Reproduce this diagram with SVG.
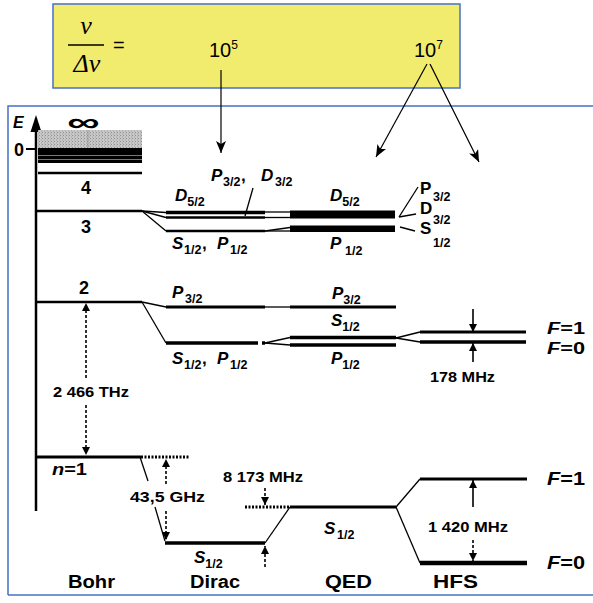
<svg xmlns="http://www.w3.org/2000/svg" width="593" height="603" viewBox="0 0 593 603">
<style>
.lv{stroke:#000;fill:none;stroke-linecap:butt}
.th{stroke:#000;stroke-width:1.3;fill:none}
.ds{stroke:#000;stroke-width:1.6;fill:none;stroke-dasharray:3,2}
.dt{stroke:#000;stroke-width:3;fill:none;stroke-dasharray:2,1.5}
.t{font-family:"Liberation Sans",Arial,Helvetica,sans-serif;font-weight:bold;fill:#000}
.i{font-style:italic}
.s{font-size:12.5px;font-style:normal}
.frame{stroke:#4472c4;stroke-width:1.5;fill:none}
</style>
<defs>
<marker id="ab" viewBox="0 0 12 10" refX="12" refY="5" markerWidth="12" markerHeight="10" markerUnits="userSpaceOnUse" orient="auto"><path d="M0,0 L12,5 L0,10 L3,5 z" fill="#000"/></marker>
<marker id="as" viewBox="0 0 10 10" refX="10" refY="5" markerWidth="9" markerHeight="8" markerUnits="userSpaceOnUse" orient="auto"><path d="M0,0 L10,5 L0,10 z" fill="#000"/></marker>
<pattern id="dots" width="3" height="3" patternUnits="userSpaceOnUse"><rect width="3" height="3" fill="#c8c8c8"/><rect width="1" height="1" fill="#8f8f8f"/><rect x="2" y="1.5" width="1" height="1" fill="#a0a0a0"/></pattern>
</defs>

<g id="ratio-box">
<rect x="53" y="4" width="407" height="84" fill="#f2ec6e" stroke="#4a6fc9" stroke-width="1.5"/>
<text x="86" y="34" font-family="'Liberation Serif','Times New Roman',serif" font-style="italic" font-size="26" text-anchor="middle">ν</text>
<line x1="68" y1="45" x2="104" y2="45" stroke="#000" stroke-width="1.3"/>
<text x="87" y="72" font-family="'Liberation Serif','Times New Roman',serif" font-style="italic" font-size="26" text-anchor="middle">Δν</text>
<text x="113" y="52" font-family="'Liberation Sans',Arial,sans-serif" font-size="20">=</text>
<text x="209" y="57" font-family="'Liberation Sans',Arial,sans-serif" font-size="20">10<tspan font-size="12" dy="-8">5</tspan></text>
<text x="414" y="57" font-family="'Liberation Sans',Arial,sans-serif" font-size="20">10<tspan font-size="12" dy="-8">7</tspan></text>
</g>

<g id="frame">
<path class="frame" d="M8,595 L8,106 L593,106"/>
<path class="frame" d="M8,595 L593,595"/>
</g>

<g id="connectors">
<line x1="221" y1="70" x2="221" y2="153" stroke="#000" stroke-width="1.2" marker-end="url(#ab)"/>
<line x1="427" y1="64" x2="376" y2="157" stroke="#000" stroke-width="1.2" marker-end="url(#ab)"/>
<line x1="430" y1="64" x2="479" y2="162" stroke="#000" stroke-width="1.2" marker-end="url(#ab)"/>
</g>

<g id="axis">
<line class="lv" x1="36" y1="128" x2="36" y2="511" stroke-width="2.5"/>
<polygon points="30.5,132 36,115 41.5,132" fill="#000"/>
<text class="t i" x="13" y="128" font-size="16">E</text>
<text class="t" x="14" y="156" font-size="18">0</text>
<line class="lv" x1="26" y1="149" x2="36" y2="149" stroke-width="2"/>
</g>

<g id="bohr">
<text class="t" transform="translate(83.5,131) scale(1.75,1)" x="0" y="0" font-size="26" text-anchor="middle">∞</text>
<rect x="38" y="130" width="104" height="18" fill="url(#dots)"/>
<line x1="88" y1="130" x2="88" y2="148" stroke="#999" stroke-width="1"/>
<rect x="38" y="148" width="104" height="15" fill="#000"/>
<line x1="38" y1="155.5" x2="142" y2="155.5" stroke="#777" stroke-width="1"/>
<line x1="38" y1="159.5" x2="142" y2="159.5" stroke="#777" stroke-width="1"/>
<line class="lv" x1="38" y1="173" x2="142" y2="173" stroke-width="2.5"/>
<text class="t" x="81" y="194" font-size="18">4</text>
<line class="lv" x1="36" y1="211" x2="142" y2="211" stroke-width="2.5"/>
<text class="t" x="81" y="233" font-size="18">3</text>
<line class="lv" x1="36" y1="302" x2="142" y2="302" stroke-width="2.5"/>
<text class="t" x="79" y="294" font-size="18">2</text>
<line class="lv" x1="36" y1="457" x2="141" y2="457" stroke-width="3"/>
<line class="dt" x1="141" y1="457" x2="190" y2="457"/>
<text class="t" x="52" y="475" font-size="17" textLength="35" lengthAdjust="spacingAndGlyphs"><tspan class="i">n</tspan>=1</text>
<text class="t" x="68" y="588" font-size="18" textLength="47" lengthAdjust="spacingAndGlyphs">Bohr</text>
</g>

<g id="dirac">
<line class="th" x1="142" y1="211" x2="166" y2="212.5"/>
<line class="th" x1="142" y1="211" x2="166" y2="217.5"/>
<line class="th" x1="142" y1="211" x2="166" y2="231"/>
<line class="lv" x1="166" y1="212.5" x2="265" y2="212.5" stroke-width="3.5"/>
<line class="lv" x1="166" y1="217.5" x2="265" y2="217.5" stroke-width="2.5"/>
<line class="lv" x1="166" y1="231" x2="265" y2="231" stroke-width="2.5"/>
<line class="th" x1="253" y1="188" x2="245" y2="216"/>
<text class="t i" x="175" y="201" font-size="17">D<tspan class="s" dy="5">5/2</tspan></text>
<text class="t i" x="211" y="181" font-size="17">P<tspan class="s" x="223" dy="5">3/2</tspan><tspan font-style="normal" x="241" dy="-5">,</tspan><tspan x="261" dy="0">D</tspan><tspan class="s" x="275" dy="5">3/2</tspan></text>
<text class="t i" x="172" y="249" font-size="17">S<tspan class="s" x="184" dy="5">1/2</tspan><tspan font-style="normal" x="202" dy="-5">,</tspan><tspan x="217" dy="0">P</tspan><tspan class="s" x="230" dy="5">1/2</tspan></text>

<line class="th" x1="142" y1="302" x2="166" y2="307"/>
<line class="th" x1="142" y1="302" x2="166" y2="343" stroke-width="1.8"/>
<line class="lv" x1="166" y1="307" x2="265" y2="307" stroke-width="3"/>
<line class="lv" x1="166" y1="343" x2="258" y2="343" stroke-width="3.5"/>
<line class="lv" x1="262" y1="343" x2="265" y2="343" stroke-width="3.5"/>
<text class="t i" x="172" y="298" font-size="17">P<tspan class="s" x="185" dy="5">3/2</tspan></text>
<text class="t i" x="172" y="364" font-size="17">S<tspan class="s" x="184" dy="5">1/2</tspan><tspan font-style="normal" x="202" dy="-5">,</tspan><tspan x="217" dy="0">P</tspan><tspan class="s" x="230" dy="5">1/2</tspan></text>

<line class="th" x1="140" y1="457" x2="148" y2="481"/>
<line class="th" x1="155" y1="507" x2="165" y2="541"/>
<line class="lv" x1="165" y1="543" x2="265" y2="543" stroke-width="3.5"/>
<text class="t i" x="194" y="563" font-size="17">S<tspan class="s" dy="5">1/2</tspan></text>
<line class="ds" x1="166" y1="484" x2="166" y2="459" marker-end="url(#as)"/>
<line class="ds" x1="166" y1="511" x2="166" y2="540" marker-end="url(#as)"/>
<text class="t" x="130" y="502" font-size="14.5" textLength="75" lengthAdjust="spacingAndGlyphs">43,5 GHz</text>
<text class="t" x="190" y="588" font-size="18" textLength="50" lengthAdjust="spacingAndGlyphs">Dirac</text>
<line class="ds" x1="86" y1="378" x2="86" y2="303" marker-end="url(#as)"/>
<line class="ds" x1="86" y1="405" x2="86" y2="455" marker-end="url(#as)"/>
<text class="t" x="53" y="397" font-size="14.5" textLength="76" lengthAdjust="spacingAndGlyphs">2 466 THz</text>
</g>

<g id="qed">
<line class="th" x1="265" y1="212" x2="290" y2="212" stroke-width="1.5"/>
<line class="th" x1="265" y1="217.5" x2="290" y2="217.5" stroke-width="1.5"/>
<line class="th" x1="265" y1="231" x2="290" y2="227.5"/>
<line class="th" x1="265" y1="231" x2="290" y2="231"/>
<rect x="290" y="210.5" width="105" height="8" fill="#000"/>
<rect x="290" y="225.5" width="105" height="6.5" fill="#000"/>
<text class="t i" x="330" y="201" font-size="17">D<tspan class="s" dy="5">5/2</tspan></text>
<text class="t i" x="330" y="249" font-size="17">P<tspan class="s" x="345" dy="6">1/2</tspan></text>
<line class="th" x1="399" y1="217" x2="418" y2="187"/>
<line class="th" x1="399" y1="217" x2="416" y2="214"/>
<line class="th" x1="400" y1="227" x2="415" y2="231"/>
<text class="t" x="420" y="194" font-size="17">P</text>
<text class="t" x="433" y="201" font-size="12.5">3/2</text>
<text class="t" x="420" y="214" font-size="17">D</text>
<text class="t" x="433" y="224" font-size="12.5">3/2</text>
<text class="t" x="420" y="234" font-size="17">S</text>
<text class="t" x="433" y="247" font-size="12.5">1/2</text>

<line class="th" x1="265" y1="307" x2="290" y2="307"/>
<line class="th" x1="265" y1="343" x2="290" y2="337.5"/>
<line class="th" x1="265" y1="343" x2="290" y2="345"/>
<line class="lv" x1="290" y1="307" x2="396" y2="307" stroke-width="3"/>
<line class="lv" x1="290" y1="337.5" x2="396" y2="337.5" stroke-width="3.5"/>
<line class="lv" x1="290" y1="345" x2="396" y2="345" stroke-width="3.5"/>
<text class="t i" x="332" y="299" font-size="17">P<tspan class="s" dy="5">3/2</tspan></text>
<text class="t i" x="331" y="326" font-size="17">S<tspan class="s" dy="5">1/2</tspan></text>
<text class="t i" x="331" y="364" font-size="17">P<tspan class="s" dy="5">1/2</tspan></text>

<line class="th" x1="265" y1="543" x2="290" y2="507" stroke-width="1.6"/>
<line class="dt" x1="245" y1="507" x2="290" y2="507"/>
<line class="lv" x1="290" y1="507" x2="396" y2="507" stroke-width="3"/>
<text class="t i" x="324" y="534" font-size="17">S<tspan class="s" x="337" dy="5">1/2</tspan></text>
<line class="ds" x1="265" y1="488" x2="265" y2="505" marker-end="url(#as)"/>
<line class="ds" x1="265" y1="567" x2="265" y2="546" marker-end="url(#as)"/>
<text class="t" x="223" y="482" font-size="14.5" textLength="80" lengthAdjust="spacingAndGlyphs">8 173 MHz</text>
<text class="t" x="325" y="588" font-size="18" textLength="47" lengthAdjust="spacingAndGlyphs">QED</text>
</g>

<g id="hfs">
<line class="th" x1="396" y1="338" x2="420" y2="332"/>
<line class="th" x1="396" y1="338" x2="420" y2="342"/>
<line class="lv" x1="420" y1="332" x2="526" y2="332" stroke-width="3"/>
<line class="lv" x1="420" y1="342" x2="526" y2="342" stroke-width="3.5"/>
<line x1="473" y1="309" x2="473" y2="332" stroke="#000" stroke-width="1.6" marker-end="url(#as)"/>
<line x1="473" y1="362" x2="473" y2="343" stroke="#000" stroke-width="1.6" marker-end="url(#as)"/>
<text class="t" x="430" y="382" font-size="14.5" textLength="65" lengthAdjust="spacingAndGlyphs">178 MHz</text>
<text class="t" x="547" y="334" font-size="16" textLength="38" lengthAdjust="spacingAndGlyphs"><tspan class="i">F</tspan>=1</text>
<text class="t" x="547" y="354" font-size="16" textLength="38" lengthAdjust="spacingAndGlyphs"><tspan class="i">F</tspan>=0</text>

<line class="th" x1="396" y1="507" x2="420" y2="479" stroke-width="1.8"/>
<line class="th" x1="396" y1="507" x2="420" y2="563" stroke-width="1.8"/>
<line class="lv" x1="420" y1="479" x2="527" y2="479" stroke-width="3"/>
<line class="lv" x1="420" y1="563" x2="527" y2="563" stroke-width="4.5"/>
<line x1="473" y1="507" x2="473" y2="480" stroke="#000" stroke-width="1.6" marker-end="url(#as)"/>
<line class="ds" x1="473" y1="540" x2="473" y2="561" marker-end="url(#as)"/>
<text class="t" x="428" y="532" font-size="14.5" textLength="80" lengthAdjust="spacingAndGlyphs">1 420 MHz</text>
<text class="t" x="547" y="485" font-size="18" textLength="38" lengthAdjust="spacingAndGlyphs"><tspan class="i">F</tspan>=1</text>
<text class="t" x="547" y="569" font-size="18" textLength="38" lengthAdjust="spacingAndGlyphs"><tspan class="i">F</tspan>=0</text>
<text class="t" x="433" y="588" font-size="18" textLength="45" lengthAdjust="spacingAndGlyphs">HFS</text>
</g>
</svg>
